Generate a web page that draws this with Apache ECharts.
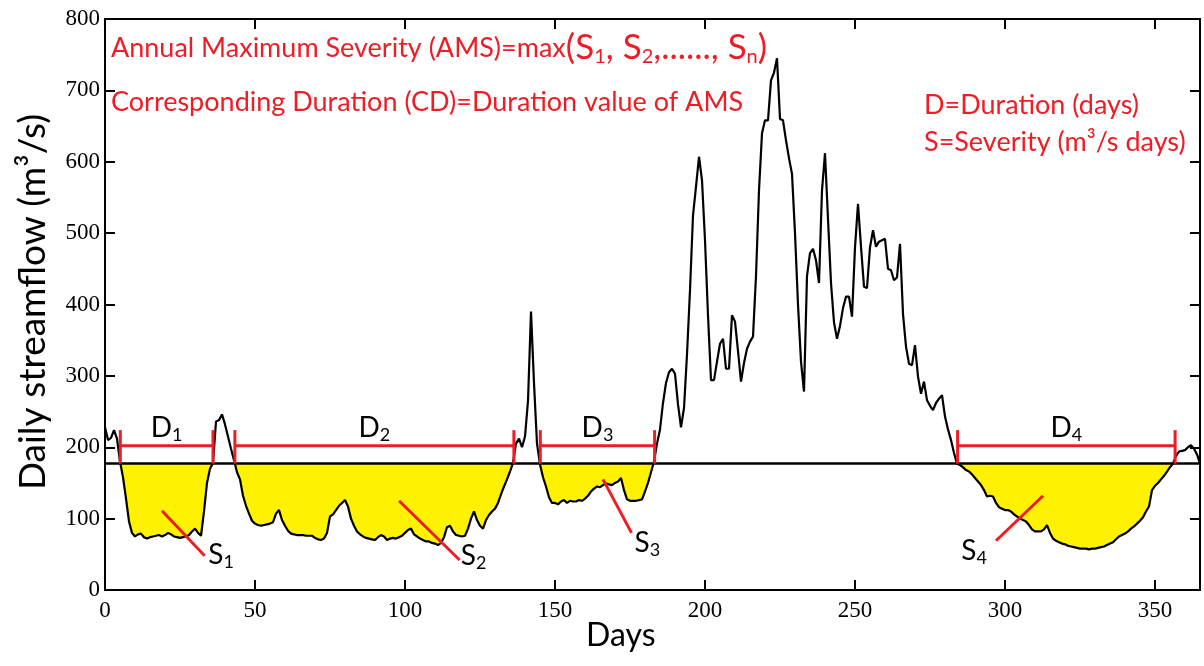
<!DOCTYPE html>
<html>
<head>
<meta charset="utf-8">
<script src="https://cdn.jsdelivr.net/npm/echarts@6/dist/echarts.min.js"></script>
<style>
  html, body { margin: 0; padding: 0; background: #fff; }
  #chart { width: 1204px; height: 666px; }
</style>
</head>
<body>
<div id="chart"></div>
<script>
// Daily streamflow (m3/s), one value per day from day 0 to day 365
const flow = [
  228, 210, 213, 224, 212, 180, 158, 128, 96, 80,
  75, 78, 79, 74, 72, 74, 75, 76, 77, 75,
  77, 80, 78, 75, 74, 73, 74, 75, 77, 82,
  86, 80, 76, 110, 150, 170, 178, 236, 238, 246,
  232, 215, 198, 182, 165, 155, 132, 118, 107, 97,
  93, 91, 90, 91, 92, 93, 95, 107, 112, 98,
  90, 83, 79, 78, 77, 77, 77, 76, 76, 76,
  73, 71, 70, 72, 80, 103, 106, 112, 118, 122,
  126, 117, 100, 90, 82, 78, 75, 73, 72, 71,
  70, 74, 77, 75, 70, 72, 73, 72, 74, 76,
  80, 84, 86, 78, 75, 72, 70, 68, 68, 66,
  65, 63, 66, 74, 88, 90, 82, 77, 76, 75,
  76, 86, 100, 110, 98, 90, 86, 98, 105, 110,
  114, 122, 134, 145, 155, 166, 178, 205, 212, 200,
  215, 265, 390, 290, 205, 176, 158, 145, 130, 122,
  122, 120, 124, 126, 122, 125, 124, 124, 126, 125,
  128, 132, 138, 142, 145, 144, 147, 149, 148, 147,
  150, 152, 157, 140, 127, 125, 125, 125, 126, 127,
  138, 150, 165, 180, 205, 225, 262, 290, 305, 310,
  303, 260, 228, 255, 330, 420, 525, 565, 607, 574,
  490, 385, 294, 294, 320, 345, 352, 310, 310, 385,
  376, 335, 292, 318, 338, 348, 355, 440, 560, 640,
  658, 658, 714, 725, 745, 660, 658, 630, 605, 583,
  500, 400, 320, 278, 440, 472, 478, 462, 430, 560,
  612, 520, 430, 375, 352, 370, 395, 411, 411, 383,
  480, 541, 481, 425, 423, 480, 504, 481, 488, 490,
  492, 450, 448, 434, 438, 485, 387, 341, 317, 315,
  343, 299, 275, 292, 266, 258, 252, 262, 268, 273,
  243, 225, 210, 192, 177, 175, 172, 168, 166, 162,
  157, 152, 147, 140, 131, 132, 131, 122, 116, 114,
  112, 112, 110, 106, 103, 100, 98, 96, 91, 85,
  82, 82, 82, 85, 91, 80, 72, 69, 67, 65,
  64, 62, 61, 60, 59, 58, 58, 58, 57, 58,
  58, 59, 60, 61, 63, 65, 67, 71, 75, 77,
  79, 82, 86, 89, 93, 97, 102, 110, 117, 140,
  146, 150, 155, 160, 166, 172, 177, 188, 194, 195,
  196, 200, 203, 198, 190, 177
];

// Low-flow threshold (m3/s)
const threshold = 177;

// Drought events: first and last day below the threshold
const droughtStart = [5.1, 43.3, 145.1, 284.2];
const droughtEnd = [36.0, 136.3, 183.2, 356.7];
const eventIndex = ['1', '2', '3', '4'];

// Tick labels
const xTicks = [0, 50, 100, 150, 200, 250, 300, 350];
const yTicks = [0, 100, 200, 300, 400, 500, 600, 700, 800];

// ---- drawing settings ----
const RED = '#EE1C25';
const SANS = 'Lato';
const SERIF = 'Liberation Serif';
const barLevel = 202;      // level of the duration brackets
const bracketTop = 224;    // top of the bracket end ticks
// severity leader lines and label anchors, in axis units [day, flow]
const leaderFrom = [[19, 111], [98, 125], [166, 155], [312.7, 132]];
const leaderTo = [[33.2, 48], [118.2, 42], [175.5, 80], [297, 69]];
const sLabelAt = [[34.4, 49], [118.6, 48], [176.5, 66], [285.4, 55]];

const richSub = (size, sub) => ({
  m: { fontFamily: SANS, fontSize: size, color: '#000', lineHeight: size + 4 },
  s: { fontFamily: SANS, fontSize: sub, color: '#000', lineHeight: sub, padding: [size + 4 - sub, 0, 0, 0] }
});

const chart = echarts.init(document.getElementById('chart'));

const axisBase = {
  type: 'value',
  axisLine: { show: true, onZero: false, lineStyle: { color: '#000', width: 2 } },
  axisTick: { show: true, inside: true, length: 10, lineStyle: { color: '#000', width: 2 } },
  splitLine: { show: false }
};

const xRange = { min: xTicks[0], max: 365, interval: xTicks[1] - xTicks[0] };
const yRange = { min: yTicks[0], max: yTicks[yTicks.length - 1], interval: yTicks[1] - yTicks[0] };

chart.setOption({
  animation: false,
  backgroundColor: '#fff',
  grid: { left: 105, right: 4, top: 19, bottom: 76, show: true, borderColor: '#000', borderWidth: 2 },
  xAxis: [
    Object.assign({}, axisBase, xRange, {
      axisLabel: {
        fontFamily: SERIF, fontSize: 23, color: '#000', margin: 9, showMaxLabel: false,
        formatter: v => (xTicks.indexOf(v) >= 0 ? String(v) : '')
      }
    }),
    // mirrored tick marks along the top frame
    Object.assign({}, axisBase, xRange, { position: 'top', axisLabel: { show: false } })
  ],
  yAxis: [
    Object.assign({}, axisBase, yRange, {
      axisLabel: { fontFamily: SERIF, fontSize: 23, color: '#000', margin: 5 }
    }),
    // mirrored tick marks along the right frame
    Object.assign({}, axisBase, yRange, { position: 'right', axisLabel: { show: false } })
  ],
  graphic: [
    {
      type: 'text', left: 586, top: 620,
      style: { text: 'Days', fontFamily: SANS, fontSize: 32, fill: '#000' }
    },
    {
      type: 'text', x: 33, y: 302, rotation: Math.PI / 2,
      style: {
        text: 'Daily streamflow (m³/s)', fontFamily: SANS, fontSize: 37, fill: '#000',
        align: 'center', verticalAlign: 'middle'
      }
    },
    {
      type: 'text', left: 111, top: 29,
      style: {
        text: 'Annual Maximum Severity (AMS)=max{b|(S}{s|1}{b|, S}{s|2}{b|,......, S}{s|n}{b|)}',
        fontFamily: SANS, fontSize: 27, fill: RED,
        rich: {
          b: { fontFamily: SANS, fontSize: 35, color: RED, lineHeight: 38 },
          s: { fontFamily: SANS, fontSize: 20, color: RED, lineHeight: 20, padding: [18, 0, 0, 0] }
        }
      }
    },
    {
      type: 'text', left: 111, top: 89,
      style: { text: 'Corresponding Duration (CD)=Duration value of AMS', fontFamily: SANS, fontSize: 27, fill: RED }
    },
    {
      type: 'text', left: 924, top: 92,
      style: { text: 'D=Duration (days)', fontFamily: SANS, fontSize: 27, fill: RED }
    },
    {
      type: 'text', left: 924, top: 129,
      style: { text: 'S=Severity (m³/s days)', fontFamily: SANS, fontSize: 27, fill: RED }
    }
  ],
  series: [
    {
      // area between the threshold and the flow while the flow is below it
      name: 'deficit',
      type: 'line',
      data: flow.map((v, i) => [i, Math.min(v, threshold)]),
      symbol: 'none',
      lineStyle: { width: 0 },
      areaStyle: { color: '#FFF200', opacity: 1, origin: threshold },
      z: 1
    },
    {
      name: 'streamflow',
      type: 'line',
      data: flow.map((v, i) => [i, v]),
      symbol: 'none',
      lineStyle: { color: '#000', width: 2.2 },
      z: 3,
      markLine: {
        silent: true,
        symbol: 'none',
        label: { show: false },
        lineStyle: { color: '#000', width: 2.5, type: 'solid' },
        data: [{ yAxis: threshold }]
      }
    },
    {
      // duration brackets with their D labels
      name: 'duration',
      type: 'custom',
      data: droughtStart.map((s, i) => [s, droughtEnd[i], i]),
      z: 5,
      renderItem: (params, api) => {
        const s = api.value(0), e = api.value(1), k = api.value(2);
        const a = api.coord([s, barLevel]);
        const b = api.coord([e, barLevel]);
        const aTop = api.coord([s, bracketTop]);
        const aBot = api.coord([s, threshold]);
        const bTop = api.coord([e, bracketTop]);
        const bBot = api.coord([e, threshold]);
        const st = { stroke: RED, lineWidth: 3 };
        return {
          type: 'group',
          children: [
            { type: 'line', shape: { x1: a[0], y1: a[1], x2: b[0], y2: b[1] }, style: st },
            { type: 'line', shape: { x1: aTop[0], y1: aTop[1], x2: aBot[0], y2: aBot[1] }, style: st },
            { type: 'line', shape: { x1: bTop[0], y1: bTop[1], x2: bBot[0], y2: bBot[1] }, style: st },
            {
              type: 'text', x: (a[0] + b[0]) / 2, y: a[1] - 2,
              style: {
                text: '{m|D}{s|' + eventIndex[k] + '}',
                rich: richSub(28, 18), align: 'center', verticalAlign: 'bottom'
              }
            }
          ]
        };
      }
    },
    {
      // severity leader lines with their S labels
      name: 'severity',
      type: 'custom',
      data: leaderFrom.map((p, i) => [p[0], p[1], leaderTo[i][0], leaderTo[i][1], sLabelAt[i][0], sLabelAt[i][1], i]),
      z: 5,
      renderItem: (params, api) => {
        const p0 = api.coord([api.value(0), api.value(1)]);
        const p1 = api.coord([api.value(2), api.value(3)]);
        const t = api.coord([api.value(4), api.value(5)]);
        const k = api.value(6);
        return {
          type: 'group',
          children: [
            { type: 'line', shape: { x1: p0[0], y1: p0[1], x2: p1[0], y2: p1[1] }, style: { stroke: RED, lineWidth: 3 } },
            {
              type: 'text', x: t[0], y: t[1],
              style: {
                text: '{m|S}{s|' + eventIndex[k] + '}',
                rich: richSub(28, 18), align: 'left', verticalAlign: 'middle'
              }
            }
          ]
        };
      }
    }
  ]
});
</script>
</body>
</html>
